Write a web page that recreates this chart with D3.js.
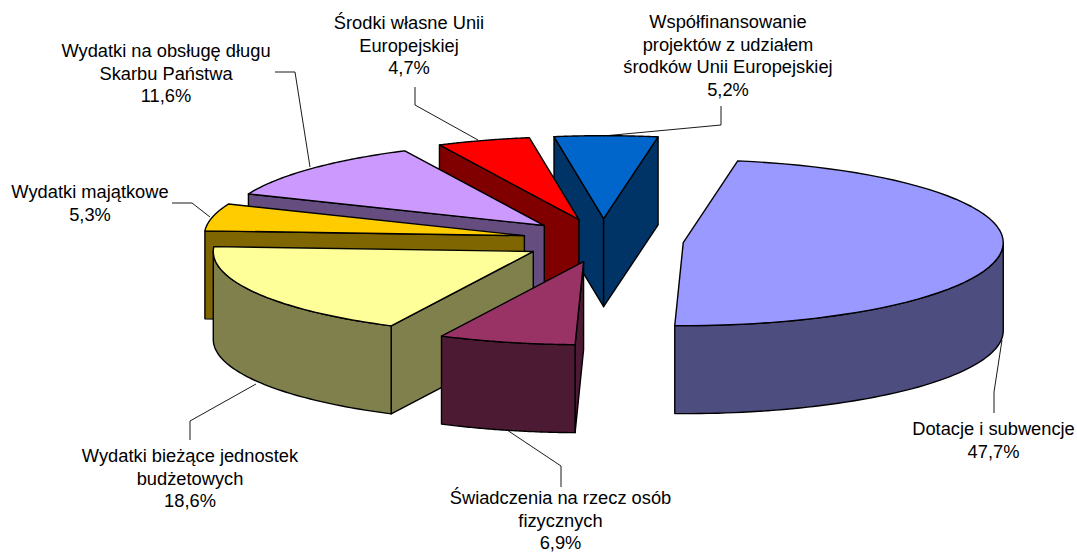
<!DOCTYPE html>
<html>
<head>
<meta charset="utf-8">
<script src="https://cdnjs.cloudflare.com/ajax/libs/d3/7.8.5/d3.min.js"></script>
<style>
html,body{margin:0;padding:0;background:#fff;}
svg{display:block;}
text{font-family:"Liberation Sans",Arial,sans-serif;font-size:18.3px;fill:#000;}
</style>
</head>
<body>
<svg id="chart" width="1077" height="553"></svg>
<script>
// Data
const categories = [
  "Dotacje i subwencje",
  "Świadczenia na rzecz osób fizycznych",
  "Wydatki bieżące jednostek budżetowych",
  "Wydatki majątkowe",
  "Wydatki na obsługę długu Skarbu Państwa",
  "Środki własne Unii Europejskiej",
  "Współfinansowanie projektów z udziałem środków Unii Europejskiej"
];
const shares = [47.7, 6.9, 18.6, 5.3, 11.6, 4.7, 5.2];
const labelLines = [
  ["Dotacje i subwencje"],
  ["Świadczenia na rzecz osób", "fizycznych"],
  ["Wydatki bieżące jednostek", "budżetowych"],
  ["Wydatki majątkowe"],
  ["Wydatki na obsługę długu", "Skarbu Państwa"],
  ["Środki własne Unii", "Europejskiej"],
  ["Współfinansowanie", "projektów z udziałem", "środków Unii Europejskiej"]
];
const topColors  = ["#9999FF", "#993366", "#FFFF99", "#FFCC00", "#CC99FF", "#FF0000", "#0066CC"];
const sideColors = ["#4D4D80", "#4D1A33", "#80804D", "#806600", "#664D80", "#800000", "#003366"];

// Layout (not data)
const center = [603, 240.5], radiusX = 320, radiusY = 83, depth = 88;
const explodeX = 0.252, explodeY = 0.263;
const startDeg = 9.8;
const drawOrder = [0, 6, 5, 4, 3, 2, 1];
const labelAnchors = [
  [993.5, 435], [560.5, 504], [190, 462], [90, 198], [166, 57], [409, 29], [728, 28]
];
const lineGap = 22.5;
const leaders = [
  [[994, 413], [994, 392], [1002, 340]],
  [[561, 487], [561, 466], [507, 430]],
  [[190, 440], [190, 421], [256, 384]],
  [[172, 203], [192, 203], [210, 217]],
  [[275, 72], [295, 72], [310, 167]],
  [[415, 87], [415, 105], [478, 140]],
  [[721, 106], [721, 125], [603, 136]]
];

const svg = d3.select("#chart");
const TAU = Math.PI * 2;
const start = startDeg / 360 * TAU;

const pie = d3.pie().sort(null).startAngle(start).endAngle(start + TAU);
const arcs = pie(shares);

const sx = d3.scaleLinear().domain([-1, 1]).range([center[0] - radiusX, center[0] + radiusX]);
const sy = d3.scaleLinear().domain([-1, 1]).range([center[1] - radiusY, center[1] + radiusY]);
const line = d3.line();

arcs.forEach(a => {
  const mid = (a.startAngle + a.endAngle) / 2;
  a.ox = Math.sin(mid) * explodeX;
  a.oy = -Math.cos(mid) * explodeY;
});
const apex = a => [sx(a.ox), sy(a.oy)];
const rim = (a, t) => [sx(a.ox + Math.sin(t)), sy(a.oy - Math.cos(t))];
const down = p => [p[0], p[1] + depth];
const arcPts = (a, t0, t1) => d3.range(0, 61).map(i => rim(a, t0 + (t1 - t0) * i / 60));

const g = svg.append("g").attr("stroke", "#000").attr("stroke-width", 1.4).attr("stroke-linejoin", "round");

drawOrder.forEach(i => {
  const a = arcs[i];
  const p0 = apex(a);
  const cut = t => {
    const q = rim(a, t);
    g.append("path").attr("fill", sideColors[i])
      .attr("d", line([p0, q, down(q), down(p0)]) + "Z");
  };
  if (Math.sin(a.startAngle) < 0) cut(a.startAngle);
  if (Math.sin(a.endAngle) > 0) cut(a.endAngle);

  // visible outer wall: the front half of the rim
  [[Math.PI / 2, 3 * Math.PI / 2], [Math.PI / 2 + TAU, 3 * Math.PI / 2 + TAU]].forEach(([lo, hi]) => {
    const t0 = Math.max(a.startAngle, lo), t1 = Math.min(a.endAngle, hi);
    if (t1 > t0) {
      const pts = arcPts(a, t0, t1);
      g.append("path").attr("fill", sideColors[i])
        .attr("d", line(pts.concat(pts.slice().reverse().map(down))) + "Z");
    }
  });

  g.append("path").attr("fill", topColors[i])
    .attr("d", line([p0].concat(arcPts(a, a.startAngle, a.endAngle))) + "Z");
});

// Leader lines
svg.append("g").selectAll("path").data(leaders).join("path")
  .attr("fill", "none").attr("stroke", "#000").attr("stroke-width", 0.9)
  .attr("d", d => line(d));

// Labels
const fmt = v => v.toFixed(1).replace(".", ",") + "%";
const labels = svg.append("g").selectAll("text").data(categories).join("text")
  .attr("text-anchor", "middle")
  .attr("y", (d, i) => labelAnchors[i][1]);
labels.each(function (d, i) {
  const t = d3.select(this);
  labelLines[i].concat([fmt(shares[i])]).forEach((s, k) => {
    t.append("tspan").attr("x", labelAnchors[i][0])
      .attr("y", labelAnchors[i][1] + k * lineGap).text(s);
  });
});
</script>
</body>
</html>
